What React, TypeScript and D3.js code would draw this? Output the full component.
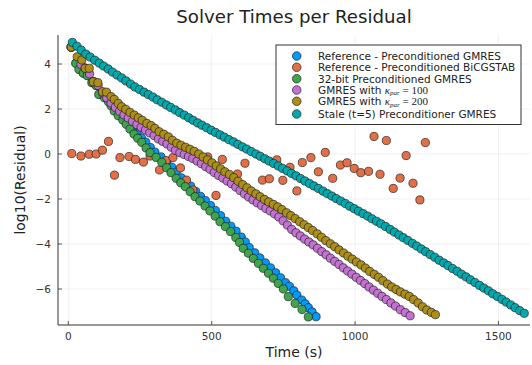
import React from "react";
import * as d3 from "d3";

// ---- data (time in s, log10 residual) ----
const blueT = [10,27,39,54,68,84,99,109,129,144,153,165,180,196,209,224,240,255,270,286,302,323,344,361,376,394,411,427,444,461,478,496,513,531,549,567,585,603,617,631,650,668,687,705,723,740,757,771,786,797,814,826,837,850,864];
const blueV = [4.75,4.04,3.77,3.60,3.49,3.18,3.05,2.66,2.51,2.33,2.16,1.92,1.71,1.52,1.33,1.12,0.90,0.71,0.53,0.29,0.08,-0.13,-0.35,-0.59,-0.81,-1.06,-1.26,-1.43,-1.66,-1.88,-2.07,-2.29,-2.51,-2.74,-2.99,-3.21,-3.43,-3.69,-3.91,-4.16,-4.39,-4.62,-4.84,-5.06,-5.28,-5.50,-5.72,-5.88,-6.08,-6.27,-6.49,-6.66,-6.83,-7.02,-7.23];

const orangeT = [12,44,73,97,119,140,161,180,212,234,262,285,318,341,365,391,412,434,486,515,537,590,616,677,701,727,748,773,797,816,846,872,896,922,949,972,997,1020,1047,1066,1087,1109,1133,1157,1178,1202,1226,1245];
const orangeV = [0.02,-0.09,-0.01,0.0,0.17,0.56,-0.94,-0.16,-0.11,-0.24,-0.36,-0.09,-0.71,-0.29,-0.16,-0.62,-1.16,-1.60,-0.13,-1.84,-0.24,-0.89,-0.41,-1.16,-1.10,-0.26,-1.17,-0.59,-1.64,-0.38,-0.16,-0.79,0.07,-1.08,-0.49,-0.39,-0.64,-0.83,-0.77,0.78,-0.90,0.60,-1.53,-1.07,-0.07,-1.30,-2.04,0.51];

const greenT = [10,26,37,52,66,82,97,106,126,140,149,160,174,190,202,215,229,242,256,271,285,306,326,343,358,376,392,408,425,442,459,477,494,512,529,548,566,584,597,610,628,645,663,680,698,715,732,750,767,791,815,837];
const greenV = [4.75,4.03,3.76,3.59,3.48,3.17,3.04,2.65,2.50,2.32,2.15,1.91,1.70,1.51,1.32,1.11,0.89,0.70,0.52,0.27,0.06,-0.15,-0.37,-0.61,-0.83,-1.08,-1.28,-1.45,-1.68,-1.90,-2.09,-2.31,-2.53,-2.76,-3.01,-3.23,-3.45,-3.71,-3.93,-4.19,-4.41,-4.64,-4.86,-5.08,-5.30,-5.52,-5.75,-6.00,-6.34,-6.64,-6.91,-7.24];

const purpleT = [10,44,59,74,89,104,119,134,149,164,179,194,209,224,239,254,269,284,299,314,329,344,359,374,389,404,419,434,449,464,479,494,509,524,539,554,569,584,599,614,629,644,659,674,689,704,719,734,749,764,779,794,809,824,839,854,869,884,899,914,929,944,959,974,989,1004,1019,1034,1049,1064,1079,1094,1109,1125,1141,1158,1175,1192];
const purpleV = [4.75,3.98,3.82,3.56,3.22,3.05,2.72,2.50,2.27,2.08,1.90,1.74,1.60,1.45,1.31,1.19,1.06,0.94,0.82,0.67,0.56,0.45,0.30,0.16,0.06,-0.02,-0.11,-0.20,-0.31,-0.43,-0.56,-0.68,-0.82,-0.95,-1.07,-1.20,-1.32,-1.47,-1.62,-1.77,-1.91,-2.04,-2.17,-2.29,-2.42,-2.53,-2.66,-2.80,-2.97,-3.16,-3.35,-3.50,-3.64,-3.78,-3.91,-4.04,-4.19,-4.34,-4.48,-4.63,-4.77,-4.91,-5.06,-5.20,-5.34,-5.48,-5.62,-5.76,-5.91,-6.05,-6.19,-6.33,-6.47,-6.62,-6.76,-6.92,-7.05,-7.19];

const goldT = [10,31,47,59,73,87,103,119,133,149,160,174,186,200,215,230,244,258,274,289,302,317,333,349,363,378,393,409,424,439,455,470,485,501,516,531,546,562,577,592,608,623,638,654,669,684,699,715,730,745,761,776,791,807,822,837,852,868,883,898,914,929,944,960,975,990,1005,1021,1036,1051,1067,1082,1097,1113,1128,1143,1158,1174,1189,1204,1220,1235,1250,1266,1280];
const goldV = [4.75,4.32,4.18,3.81,3.81,3.21,3.17,2.77,2.75,2.55,2.43,2.25,2.10,1.99,1.85,1.73,1.61,1.50,1.36,1.26,1.14,0.99,0.88,0.76,0.61,0.48,0.39,0.30,0.21,0.12,0.00,-0.13,-0.26,-0.39,-0.53,-0.66,-0.79,-0.91,-1.05,-1.21,-1.36,-1.50,-1.64,-1.77,-1.90,-2.02,-2.13,-2.24,-2.35,-2.47,-2.61,-2.74,-2.87,-3.01,-3.14,-3.27,-3.40,-3.55,-3.70,-3.85,-3.99,-4.12,-4.26,-4.40,-4.54,-4.67,-4.80,-4.93,-5.07,-5.22,-5.35,-5.48,-5.63,-5.78,-5.91,-6.02,-6.13,-6.23,-6.33,-6.47,-6.62,-6.79,-6.93,-7.04,-7.14];

const tealT = [14,30,45,61,76,92,108,123,139,154,170,186,201,217,232,248,264,279,295,310,326,342,357,373,388,404,420,435,451,466,482,498,513,529,544,560,576,591,607,622,638,654,669,685,700,716,732,747,763,778,794,810,825,841,856,872,888,903,919,934,950,966,981,997,1012,1028,1044,1059,1075,1090,1106,1122,1137,1153,1168,1184,1200,1215,1231,1246,1262,1278,1293,1309,1324,1340,1356,1371,1387,1402,1418,1434,1449,1465,1480,1496,1512,1527,1543,1558,1574,1590];
const tealV = [4.96,4.79,4.62,4.44,4.31,4.17,4.04,3.91,3.78,3.64,3.51,3.38,3.25,3.11,2.98,2.87,2.75,2.64,2.53,2.41,2.30,2.18,2.07,1.96,1.84,1.73,1.61,1.50,1.38,1.28,1.17,1.06,0.96,0.85,0.75,0.64,0.54,0.43,0.32,0.22,0.11,0.00,-0.10,-0.21,-0.31,-0.42,-0.53,-0.64,-0.75,-0.86,-0.97,-1.09,-1.20,-1.31,-1.42,-1.53,-1.65,-1.76,-1.87,-1.98,-2.09,-2.20,-2.32,-2.43,-2.54,-2.65,-2.76,-2.88,-2.99,-3.10,-3.22,-3.35,-3.47,-3.60,-3.72,-3.84,-3.97,-4.09,-4.22,-4.34,-4.47,-4.59,-4.72,-4.84,-4.96,-5.09,-5.21,-5.34,-5.46,-5.59,-5.71,-5.84,-5.96,-6.08,-6.21,-6.33,-6.46,-6.58,-6.71,-6.83,-6.96,-7.08];

const xTicks = [0, 500, 1000, 1500];
const yTicks = [-6, -4, -2, 0, 2, 4];

const seriesNames = [
  "Reference - Preconditioned GMRES",
  "Reference - Preconditioned BiCGSTAB",
  "32-bit Preconditioned GMRES",
  "GMRES with κpar = 100",
  "GMRES with κpar = 200",
  "Stale (t=5) Preconditioner GMRES",
];
const kappaValues = [null, null, null, "100", "200", null];
const colors = ["#009AFA", "#E36F47", "#3EA44E", "#C371D2", "#AC8E18", "#00A9AD"];

export default function App() {
  const W = 532, H = 365;
  const left = 58, right = 530, top = 35, bottom = 325;
  const x = d3.scaleLinear().domain([-36, 1610]).range([left, right]);
  const y = d3.scaleLinear().domain([-7.6, 5.29]).range([bottom, top]);
  const fmt = d3.format("d");
  const font = "DejaVu Sans, sans-serif";
  const serif = "Liberation Serif, DejaVu Serif, serif";

  const series = [
    { t: blueT, v: blueV },
    { t: orangeT, v: orangeV },
    { t: greenT, v: greenV },
    { t: purpleT, v: purpleV },
    { t: goldT, v: goldV },
    { t: tealT, v: tealV },
  ];

  const legendY = [56, 67.3, 78.7, 90, 101.3, 114];

  return (
    <svg width={W} height={H} style={{ position: "absolute", left: 0, top: 0, background: "#fff" }}>
      <rect x={0} y={0} width={W} height={H} fill="#fff" />
      {/* grid */}
      {xTicks.map((t) => (
        <line key={"gx" + t} x1={x(t)} x2={x(t)} y1={top} y2={bottom} stroke="#000" strokeOpacity={0.1} strokeWidth={0.6} />
      ))}
      {yTicks.map((t) => (
        <line key={"gy" + t} x1={left} x2={right} y1={y(t)} y2={y(t)} stroke="#000" strokeOpacity={0.1} strokeWidth={0.6} />
      ))}
      {/* axes */}
      <line x1={left} x2={left} y1={top} y2={bottom} stroke="#333" strokeWidth={1} />
      <line x1={left} x2={right} y1={bottom} y2={bottom} stroke="#333" strokeWidth={1} />
      {xTicks.map((t) => (
        <g key={"xt" + t}>
          <line x1={x(t)} x2={x(t)} y1={bottom} y2={bottom - 4} stroke="#333" strokeWidth={0.8} />
          <text x={x(t)} y={339.5} fontFamily={font} fontSize={10.5} fill="#333" textAnchor="middle">{fmt(t)}</text>
        </g>
      ))}
      {yTicks.map((t) => (
        <g key={"yt" + t}>
          <line x1={left} x2={left + 4} y1={y(t)} y2={y(t)} stroke="#333" strokeWidth={0.8} />
          <text x={51} y={y(t) + 3.8} fontFamily={font} fontSize={10.5} fill="#333" textAnchor="end">{fmt(t)}</text>
        </g>
      ))}
      {/* labels */}
      <text x={(left + right) / 2} y={23} fontFamily={font} fontSize={18.2} fill="#222" textAnchor="middle">Solver Times per Residual</text>
      <text x={(left + right) / 2} y={357} fontFamily={font} fontSize={14} fill="#222" textAnchor="middle">Time (s)</text>
      <text transform={`translate(25,${(top + bottom) / 2}) rotate(-90)`} fontFamily={font} fontSize={14} fill="#222" textAnchor="middle">log10(Residual)</text>
      {/* points */}
      {series.map((s, i) => (
        <g key={"s" + i}>
          {s.t.map((t, j) => (
            <circle key={j} cx={x(t)} cy={y(s.v[j])} r={4.1} fill={colors[i]} stroke="#222" strokeWidth={0.7} />
          ))}
        </g>
      ))}
      {/* legend */}
      <rect x={276} y={45} width={245} height={79.5} fill="#fff" stroke="#333" strokeWidth={1} />
      {seriesNames.map((name, i) => (
        <g key={"lg" + i}>
          <circle cx={296.7} cy={legendY[i]} r={4.3} fill={colors[i]} stroke="#222" strokeWidth={0.7} />
          {kappaValues[i] ? (
            <text x={318} y={legendY[i] + 3.5} fontFamily={font} fontSize={10.5} fill="#222">
              GMRES with{" "}
              <tspan fontFamily={serif} fontStyle="italic" fontSize={11}>κ</tspan>
              <tspan fontFamily={serif} fontStyle="italic" fontSize={7} dy={1.8}>par</tspan>
              <tspan fontFamily={serif} fontSize={11} dy={-1.8}>{" = " + kappaValues[i]}</tspan>
            </text>
          ) : (
            <text x={318} y={legendY[i] + 3.8} fontFamily={font} fontSize={10.5} fill="#222">{name}</text>
          )}
        </g>
      ))}
    </svg>
  );
}
